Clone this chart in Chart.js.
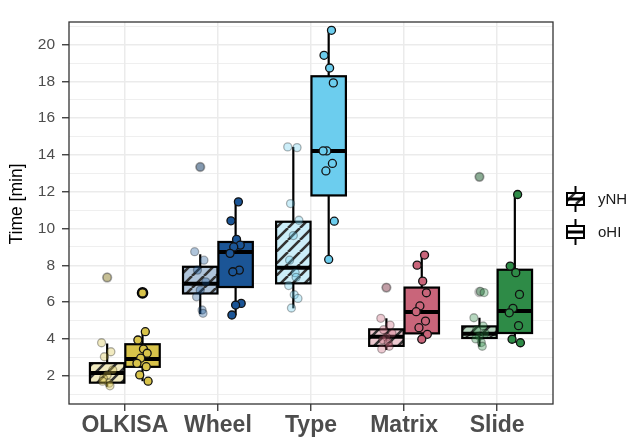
<!DOCTYPE html>
<html lang="en">
<head>
  <meta charset="UTF-8" />
  <title>Time per task</title>
  <script src="https://cdn.jsdelivr.net/npm/chart.js"></script>
  <style>
    body { margin: 0; background: #fff; }
    #wrap { width: 631px; height: 442px; }
  </style>
</head>
<body>
<div id="wrap"><canvas id="chart"></canvas></div>

<script>
  const categories = ["OLKISA", "Wheel", "Type", "Matrix", "Slide"];
  const groups = ["yNH", "oHI"];
  const colors = ["#d8c34a", "#1b5596", "#6ccdee", "#c9657a", "#2e8b47"];

  const yMajorTicks = [2, 4, 6, 8, 10, 12, 14, 16, 18, 20];
  const yMinorTicks = [1, 3, 5, 7, 9, 11, 13, 15, 17, 19, 21];
  const yTitle = "Time [min]";

  // [lower whisker, Q1, median, Q3, upper whisker]
  const boxYNH = [
    [1.4, 1.62, 2.15, 2.68, 3.75],
    [5.35, 6.47, 7.0, 7.92, 8.6],
    [5.66, 7.02, 7.87, 10.37, 14.44],
    [3.4, 3.62, 4.12, 4.52, 5.12],
    [3.58, 4.05, 4.28, 4.68, 5.15]
  ];
  const boxOHI = [
    [1.7, 2.48, 2.9, 3.71, 4.38],
    [5.28, 6.82, 8.72, 9.27, 11.45],
    [8.32, 11.8, 14.22, 18.28, 20.78],
    [3.95, 4.3, 5.46, 6.79, 8.58],
    [3.79, 4.32, 5.52, 7.76, 11.85]
  ];

  // individual measurements (jittered points)
  const pointsYNH = [
    [3.79, 3.3, 3.03, 2.31, 2.04, 1.86, 1.59, 1.45, 1.7, 7.34],
    [8.74, 8.28, 7.74, 7.1, 6.65, 6.29, 5.57, 5.39, 13.35],
    [14.44, 14.4, 11.36, 10.45, 9.62, 8.28, 7.6, 7.35, 6.9, 6.4, 6.2, 5.68],
    [5.12, 4.75, 4.5, 4.3, 4.1, 3.95, 3.8, 3.6, 3.45, 6.79],
    [5.15, 4.7, 4.5, 4.3, 4.15, 4.0, 3.8, 3.6, 12.81, 6.58, 6.52]
  ];
  const pointsOHI = [
    [4.39, 3.94, 3.45, 3.22, 2.95, 2.67, 2.49, 2.04, 1.7, 6.5],
    [11.45, 10.42, 9.41, 9.1, 9.0, 8.65, 7.74, 7.65, 5.93, 5.84, 5.3],
    [20.78, 19.42, 18.73, 17.92, 14.22, 14.22, 13.54, 13.13, 10.4, 8.32],
    [8.56, 8.01, 7.14, 6.51, 5.79, 5.48, 4.97, 4.61, 4.25, 3.98],
    [11.85, 7.96, 7.6, 6.42, 5.66, 5.42, 4.72, 3.98, 3.79]
  ];
  // boxplot outliers
  const outliersYNH = [[7.34], [13.35], [], [6.79], [12.81, 6.55]];
  const outliersOHI = [[6.5], [], [], [], []];

  const JITTER = [0.03, -0.05, 0.01, 0.05, -0.02, -0.06, 0.04, -0.03, 0.06, 0.0, -0.04, 0.02];
  const DODGE = 0.19, BOX_W = 0.37;
  const FONT = "'Liberation Sans', Arial, sans-serif";

  function rgba(hex, a) {
    const n = parseInt(hex.slice(1), 16);
    return `rgba(${n >> 16},${(n >> 8) & 255},${n & 255},${a})`;
  }
  function blend(hex, a) {
    const n = parseInt(hex.slice(1), 16);
    const m = c => Math.round(255 - a * (255 - c));
    return `rgb(${m(n >> 16)},${m((n >> 8) & 255)},${m(n & 255)})`;
  }
  function hatch(bg) {
    const s = 12;
    const c = document.createElement("canvas");
    c.width = c.height = s;
    const g = c.getContext("2d");
    g.fillStyle = bg;
    g.fillRect(0, 0, s, s);
    g.strokeStyle = "#333";
    g.lineWidth = 2.6;
    g.beginPath();
    for (const o of [-s, 0, s]) { g.moveTo(o, s); g.lineTo(o + s, 0); }
    g.stroke();
    return g.createPattern(c, "repeat");
  }

  // outlier measurements sit on the box centre line, the rest get a small jitter
  const jitterX = (i, off, outs, v, j, shift) =>
    i + 1 + off + (outs.includes(v) ? 0 : JITTER[(j + shift) % JITTER.length]);

  const datasets = [];
  categories.forEach((cat, i) => {
    datasets.push({
      label: cat + " oHI",
      data: pointsOHI[i].map((v, j) => ({ x: jitterX(i, DODGE, outliersOHI[i], v, j, 0), y: v })),
      backgroundColor: colors[i],
      borderColor: "#111",
      borderWidth: 1.3,
      pointRadius: 4
    });
  });
  categories.forEach((cat, i) => {
    datasets.push({
      label: cat + " yNH",
      data: pointsYNH[i].map((v, j) => ({ x: jitterX(i, -DODGE, outliersYNH[i], v, j, 5), y: v })),
      backgroundColor: rgba(colors[i], 0.35),
      borderColor: "rgba(0,0,0,0.3)",
      borderWidth: 1.3,
      pointRadius: 4
    });
  });
  datasets.push({
    label: "outliers oHI",
    data: outliersOHI.flatMap((arr, i) => arr.map(v => ({ x: i + 1 + DODGE, y: v }))),
    backgroundColor: "#000",
    borderWidth: 0,
    pointRadius: 5.8
  });
  datasets.push({
    label: "outliers yNH",
    data: outliersYNH.flatMap((arr, i) => arr.map(v => ({ x: i + 1 - DODGE, y: v }))),
    backgroundColor: "rgba(110,110,110,0.45)",
    borderWidth: 0,
    pointRadius: 5.2
  });

  const line = (ctx, x0, y0, x1, y1) => { ctx.beginPath(); ctx.moveTo(x0, y0); ctx.lineTo(x1, y1); ctx.stroke(); };

  const boxPlugin = {
    id: "boxes",
    beforeDatasetsDraw(chart) {
      const { ctx, scales: { x, y } } = chart;
      ctx.save();
      categories.forEach((cat, i) => {
        [[boxYNH[i], -DODGE, hatch(blend(colors[i], 0.35))], [boxOHI[i], DODGE, colors[i]]].forEach(([b, off, fill]) => {
          const xc = x.getPixelForValue(i + 1 + off);
          const x0 = x.getPixelForValue(i + 1 + off - BOX_W / 2);
          const x1 = x.getPixelForValue(i + 1 + off + BOX_W / 2);
          const [lo, q1, med, q3, hi] = b.map(v => y.getPixelForValue(v));
          ctx.strokeStyle = "#000";
          ctx.lineWidth = 2.2;
          line(ctx, xc, hi, xc, q3);
          line(ctx, xc, q1, xc, lo);
          ctx.fillStyle = fill;
          ctx.fillRect(x0, q3, x1 - x0, q1 - q3);
          ctx.strokeRect(x0, q3, x1 - x0, q1 - q3);
          ctx.lineWidth = 4;
          line(ctx, x0, med, x1, med);
        });
      });
      ctx.restore();
    },
    afterDatasetsDraw(chart) {
      const { ctx, chartArea: a } = chart;
      ctx.save();
      ctx.strokeStyle = "#333";
      ctx.lineWidth = 1.3;
      ctx.strokeRect(a.left, a.top, a.right - a.left, a.bottom - a.top);
      ctx.restore();
    },
    afterDraw(chart) {
      const { ctx } = chart;
      ctx.save();
      // y axis title
      ctx.translate(17, 204);
      ctx.rotate(-Math.PI / 2);
      ctx.fillStyle = "#000";
      ctx.font = "17.5px " + FONT;
      ctx.textAlign = "center";
      ctx.textBaseline = "middle";
      ctx.fillText(yTitle, 0, 0);
      ctx.restore();

      ctx.save();
      [[groups[0], 199, hatch("#fff")], [groups[1], 232, "#fff"]].forEach(([name, cy, fill]) => {
        const x0 = 567, x1 = 584, xc = (x0 + x1) / 2;
        ctx.strokeStyle = "#000";
        ctx.lineWidth = 2;
        line(ctx, xc, cy - 13, xc, cy - 6);
        line(ctx, xc, cy + 6, xc, cy + 13);
        ctx.fillStyle = fill;
        ctx.fillRect(x0, cy - 6, x1 - x0, 12);
        ctx.strokeRect(x0, cy - 6, x1 - x0, 12);
        ctx.lineWidth = 3;
        line(ctx, x0, cy, x1, cy);
        ctx.fillStyle = "#1a1a1a";
        ctx.font = "15px " + FONT;
        ctx.textBaseline = "middle";
        ctx.fillText(name, 598, cy + 1);
      });
      ctx.restore();
    }
  };

  new Chart(document.getElementById("chart"), {
    type: "scatter",
    data: { datasets },
    plugins: [boxPlugin],
    options: {
      responsive: true,
      maintainAspectRatio: false,
      animation: false,
      layout: { padding: { top: 22, right: 78, left: 0, bottom: 0 } },
      plugins: { legend: { display: false }, tooltip: { enabled: false } },
      scales: {
        x: {
          type: "linear",
          min: 0.4,
          max: 5.6,
          afterBuildTicks: s => { s.ticks = categories.map((c, i) => ({ value: i + 1 })); },
          afterFit: s => { s.height = 38; },
          ticks: {
            autoSkip: false,
            maxRotation: 0,
            padding: 1,
            color: "#4d4d4d",
            font: { family: FONT, size: 23, weight: "bold" },
            callback: v => categories[v - 1]
          },
          grid: { color: "#ebebeb", lineWidth: 1.5, tickLength: 7, tickColor: "#333", tickWidth: 1.3 },
          border: { display: false }
        },
        y: {
          min: 0.46,
          max: 21.23,
          afterBuildTicks: s => {
            s.ticks = [...yMinorTicks, ...yMajorTicks].sort((a, b) => a - b).map(v => ({ value: v }));
          },
          afterFit: s => { s.width = 69; },
          ticks: {
            autoSkip: false,
            padding: 7,
            color: "#4d4d4d",
            font: { family: FONT, size: 15.5 },
            callback: v => yMajorTicks.includes(v) ? String(v) : ""
          },
          grid: {
            color: "#ebebeb",
            lineWidth: c => yMajorTicks.includes(c.tick.value) ? 1.5 : 0.8,
            tickLength: 7,
            tickColor: c => yMajorTicks.includes(c.tick.value) ? "#333" : "rgba(0,0,0,0)",
            tickWidth: 1.3
          },
          border: { display: false }
        }
      }
    }
  });
</script>
</body>
</html>
